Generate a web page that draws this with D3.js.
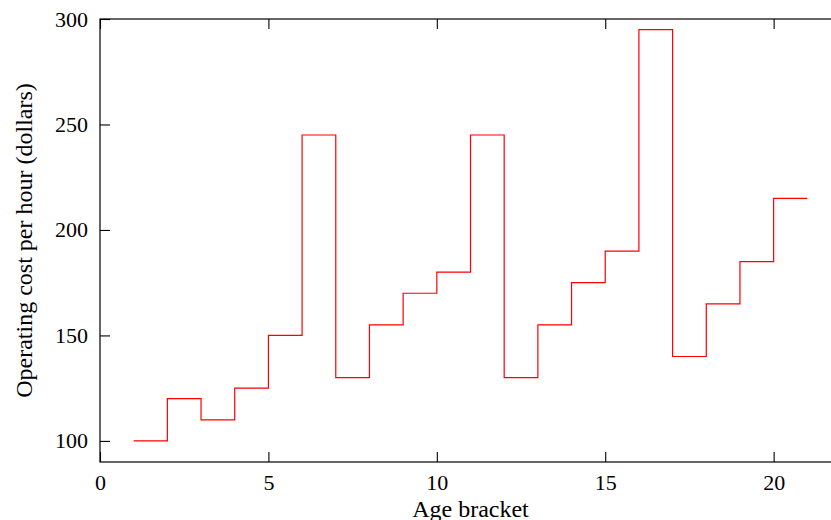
<!DOCTYPE html>
<html>
<head>
<meta charset="utf-8">
<script src="https://cdn.jsdelivr.net/npm/d3@7"></script>
<style>
  body { margin: 0; background: #fff; }
  svg { display: block; }
  text { font-family: "Liberation Serif", "DejaVu Serif", serif; fill: #000; }
</style>
</head>
<body>
<div id="chart"></div>
<script>
	// age bracket -> cost per hour (step drawn after each point)
	const ageBrackets = [1, 2, 3, 4, 5, 6, 7, 8, 9, 10, 11, 12, 13, 14, 15, 16, 17, 18, 19, 20, 21];
	const costPerHour = [100, 120, 110, 125, 150, 245, 130, 155, 170, 180, 245, 130, 155, 175, 190, 295, 140, 165, 185, 215, 215];
	const xTicks = [0, 5, 10, 15, 20];
	const yTicks = [100, 150, 200, 250, 300];

	const width = 831, height = 520;
	const margin = { left: 100, top: 19, right: -10, bottom: 58 };   // right edge of the frame runs off the page

	const x = d3.scaleLinear().domain([0, 22]).range([margin.left, width - margin.right]);
	const y = d3.scaleLinear().domain([90, 300]).range([height - margin.bottom, margin.top]);

	const svg = d3.select("#chart").append("svg")
		.attr("width", width)
		.attr("height", height);

	//-------- frame
	svg.append("rect")
		.attr("x", x(0)).attr("y", y(300))
		.attr("width", x(22) - x(0)).attr("height", y(90) - y(300))
		.attr("fill", "none").attr("stroke", "#000").attr("stroke-width", 1.2);

	//-------- axes, ticks pointing inward on all four sides
	const axisStyle = function (g) {
		g.attr("font-family", null).attr("font-size", null);
		g.select(".domain").remove();
		g.selectAll(".tick line").attr("stroke", "#000").attr("stroke-width", 1.1);
		g.selectAll(".tick text").attr("font-size", 22);
	};

	svg.append("g")
		.attr("transform", "translate(0," + y(90) + ")")
		.call(d3.axisBottom(x).tickValues(xTicks).tickFormat(d3.format("d")).tickSizeInner(-10).tickPadding(12))
		.call(axisStyle);

	svg.append("g")
		.attr("transform", "translate(0," + y(300) + ")")
		.call(d3.axisTop(x).tickValues(xTicks).tickFormat("").tickSizeInner(-10))
		.call(axisStyle);

	svg.append("g")
		.attr("transform", "translate(" + x(0) + ",0)")
		.call(d3.axisLeft(y).tickValues(yTicks).tickFormat(d3.format("d")).tickSizeInner(-10).tickPadding(12))
		.call(axisStyle);

	svg.append("g")
		.attr("transform", "translate(" + x(22) + ",0)")
		.call(d3.axisRight(y).tickValues(yTicks).tickFormat("").tickSizeInner(-10))
		.call(axisStyle);

	//-------- step line
	const pts = ageBrackets.map((d, i) => [d, costPerHour[i]]);
	const line = d3.line()
		.x(d => x(d[0]))
		.y(d => y(d[1]))
		.curve(d3.curveStepAfter);

	svg.append("path")
		.datum(pts)
		.attr("d", line)
		.attr("fill", "none")
		.attr("stroke", "#ff0000")
		.attr("stroke-width", 1.2);

	//-------- labels
	svg.append("text")
		.attr("x", (x(0) + x(22)) / 2)
		.attr("y", 517)
		.attr("text-anchor", "middle")
		.attr("font-size", 24)
		.text("Age bracket");

	svg.append("text")
		.attr("transform", "translate(32," + ((y(90) + y(300)) / 2) + ") rotate(-90)")
		.attr("text-anchor", "middle")
		.attr("font-size", 24)
		.text("Operating cost per hour (dollars)");
</script>
</body>
</html>
